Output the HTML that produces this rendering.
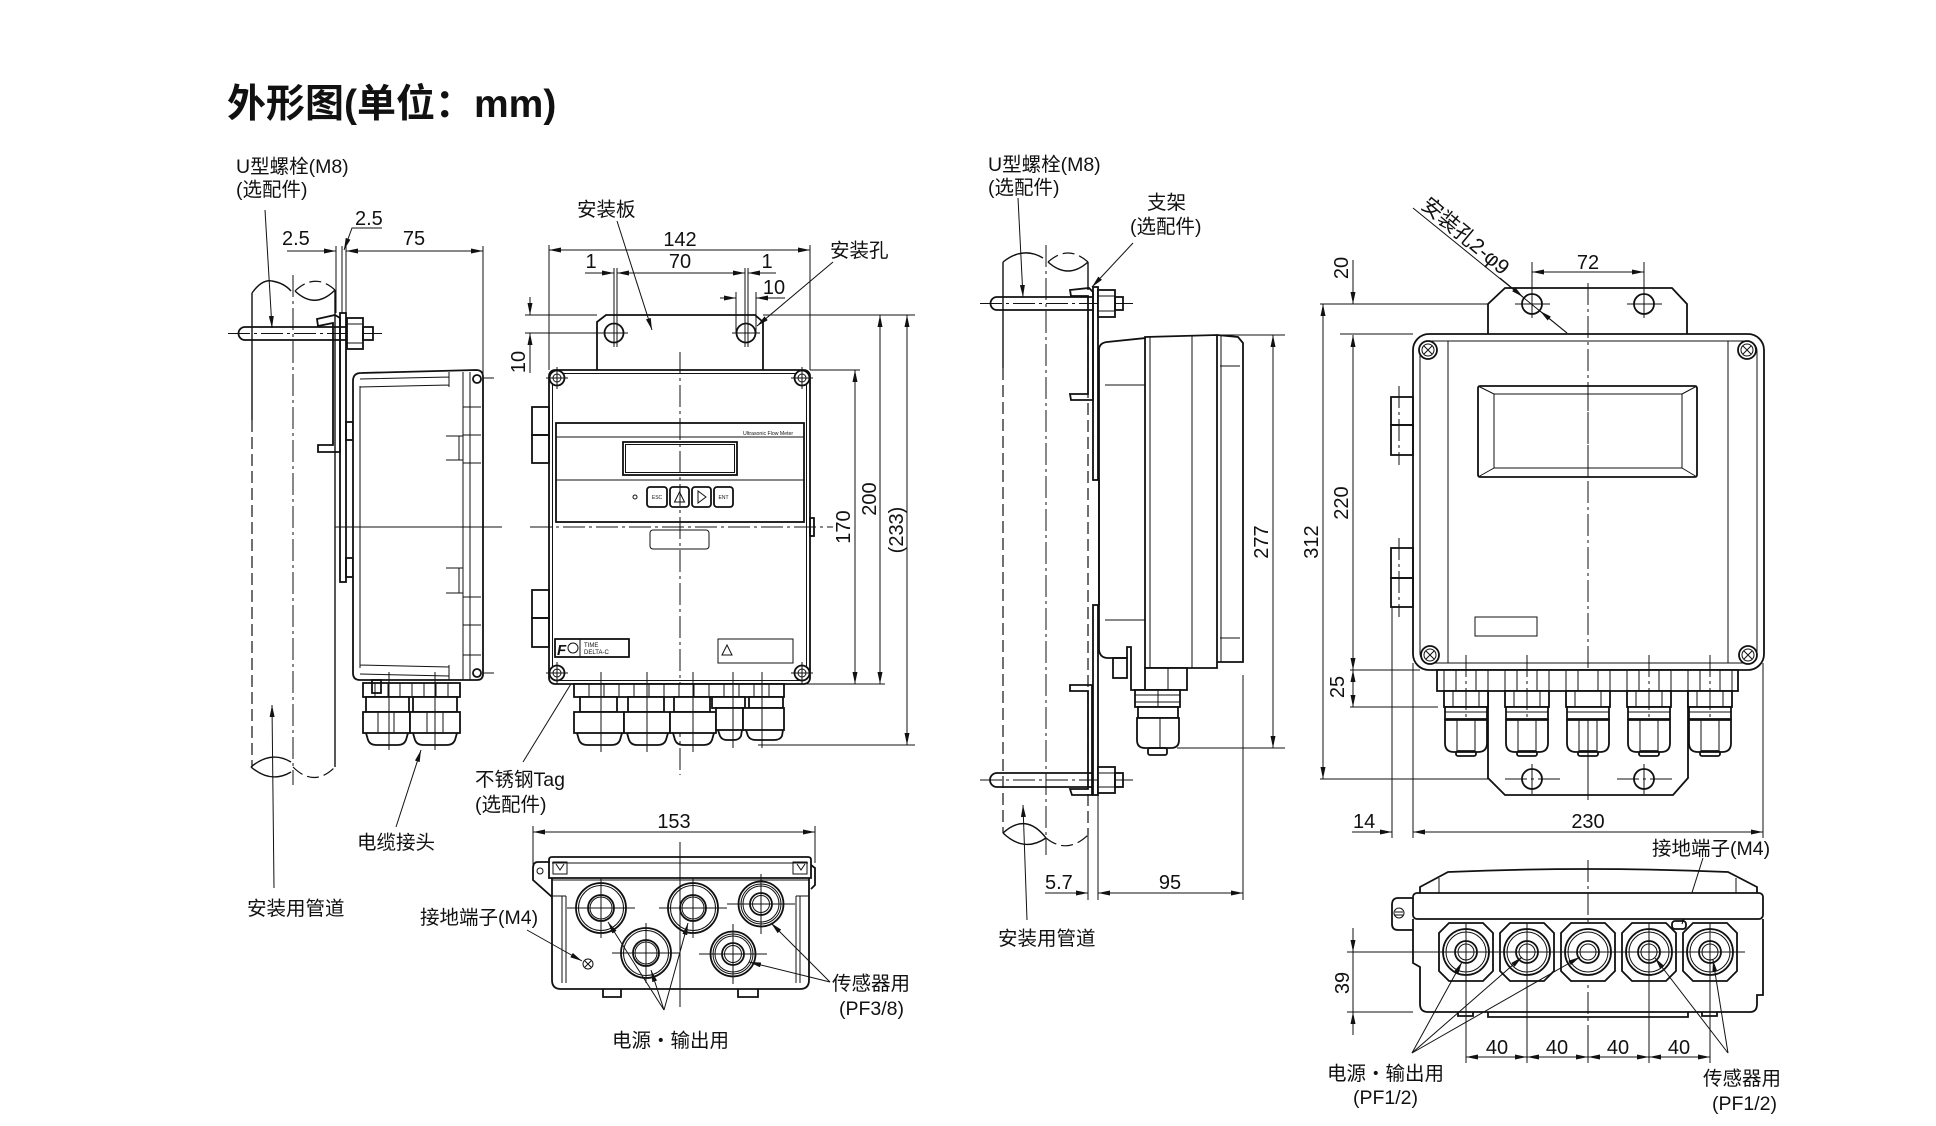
<!DOCTYPE html>
<html><head><meta charset="utf-8"><style>
html,body{margin:0;padding:0;background:#fff}
svg{display:block}
</style></head><body>
<svg xmlns="http://www.w3.org/2000/svg" width="1936" height="1126" viewBox="0 0 1936 1126">
<defs>
<marker id="A" viewBox="0 0 12 5" refX="12" refY="2.5" markerWidth="12" markerHeight="5" markerUnits="userSpaceOnUse" orient="auto-start-reverse"><path d="M0,0L12,2.5L0,5z" fill="#111"/></marker>
</defs>
<style>
.k{fill:none;stroke:#111;stroke-width:1.8}
.w{fill:#fff;stroke:#111;stroke-width:1.8}
.p{fill:none;stroke:#111;stroke-width:1.4}
.f{fill:none;stroke:#111;stroke-width:1}
.fw{fill:#fff;stroke:#111;stroke-width:1}
.c{fill:none;stroke:#111;stroke-width:1;stroke-dasharray:22 4 3 4}
.d{fill:none;stroke:#111;stroke-width:1.2;stroke-dasharray:12 5}
.m{fill:none;stroke:#111;stroke-width:1;marker-end:url(#A)}
.mm{fill:none;stroke:#111;stroke-width:1;marker-start:url(#A);marker-end:url(#A)}
text{font-family:"Liberation Sans","Noto Sans CJK SC",sans-serif;fill:#111}
.L{font-size:19.5px}
.D{font-size:20px}
.T{font-size:5px}
</style>
<rect width="1936" height="1126" fill="#fff"/>

<!-- Title -->
<text x="227" y="117" font-size="39" font-weight="bold">外形图(单位：mm)</text>

<!-- ================= VIEW A (side) ================= -->
<path class="p" d="M252,293V420"/><path class="d" d="M252,420V767"/>
<path class="c" d="M293,275V785"/>
<path class="p" d="M335,290V767"/>
<path class="p" d="M252,293 Q262,279 272,281 Q284,283 291,291"/>
<path class="d" d="M295,291 Q315,272 335,290"/><path class="p" d="M295,291 Q315,310 335,290"/>
<path class="p" d="M251,767 Q271,750 291,762"/><path class="p" d="M251,767 Q271,784 291,772"/>
<path class="d" d="M293,767 Q314,788 335,767"/>
<!-- U bolt -->
<path class="k" d="M347,327 L245,327 A6.5,6.5 0 0 0 245,340 L347,340"/>
<path class="c" d="M228,333.5H382"/>
<rect class="w" x="347" y="318" width="16" height="31"/>
<path class="f" d="M347,324H363 M347,343H363"/>
<rect class="k" x="363" y="327" width="10" height="13"/>
<!-- bracket -->
<path class="k" d="M317,319 L335,315 L340,318 L340,452 L318,452 L318,445 L333,445 L333,323 L318,326 Z"/>
<rect class="k" x="340" y="313" width="6" height="269"/>
<rect class="k" x="346" y="422" width="7" height="18"/>
<rect class="k" x="346" y="558" width="7" height="19"/>
<!-- housing side -->
<path class="w" d="M361,373 L476,370 Q483,370 483,377 L483,674 Q483,680 477,680 L360,680 Q353,680 353,673 L353,381 Q353,373 361,373 Z"/>
<path class="f" d="M360,386V668 M360,379L449,377 M360,387L449,385 M449,372V387 M463,372V680 M470,372V680 M360,665L449,667 M360,674L449,676 M449,665V680"/>
<path class="f" d="M463,407H481 M463,435H481 M463,463H481 M463,597H481 M463,625H481 M463,655H481"/>
<path class="f" d="M446,436H463 M446,460H463 M459,436V460 M446,568H463 M446,593H463 M459,568V593"/>
<circle class="k" cx="477" cy="379" r="4"/><circle class="k" cx="477" cy="673" r="4"/>
<path class="f" d="M335,527H502 M483,378H494 M483,673H494"/>
<!-- glands A -->
<rect class="w" x="363" y="683" width="97" height="14"/>
<path class="f" d="M375,683V697 M388,683V697 M400,683V697 M412,683V697 M424,683V697 M436,683V697 M448,683V697"/>
<rect class="w" x="366" y="697" width="43" height="15"/><rect class="w" x="413" y="697" width="44" height="15"/>
<rect class="w" x="363" y="712" width="47" height="21"/><rect class="w" x="410" y="712" width="50" height="21"/>
<path class="f" d="M378,712V733 M394,712V733 M427,712V733 M443,712V733"/>
<path class="k" d="M366,733 L368,740 Q370,745 376,745 L398,745 Q404,745 406,740 L408,733 M413,733 L415,740 Q417,745 423,745 L447,745 Q453,745 455,740 L457,733"/>
<rect class="k" x="372" y="680" width="9" height="13"/>
<path class="f" d="M389,672V750 M435,672V750"/>
<!-- dims A -->
<text class="D" x="282" y="245">2.5</text>
<path class="m" d="M287,251H336"/>
<path class="f" d="M336,246V313 M342,246V313 M346,246V313"/>
<text class="D" x="355" y="225">2.5</text>
<path class="m" d="M382,228H352L344,250"/>
<path class="mm" d="M346,251H483"/>
<text class="D" x="414" y="245" text-anchor="middle">75</text>
<path class="f" d="M483,246V382"/>
<!-- labels A -->
<text class="L" x="236" y="173">U型螺栓(M8)</text>
<text class="L" x="236" y="196">(选配件)</text>
<path class="m" d="M265,210L272,328"/>
<text class="L" x="247" y="915">安装用管道</text>
<path class="m" d="M274,888L272,705"/>
<text class="L" x="357" y="849">电缆接头</text>
<path class="m" d="M396,827L421,750"/>
<text class="L" x="475" y="786">不锈钢Tag</text>
<text class="L" x="475" y="811">(选配件)</text>
<path class="m" d="M523,762L655,547"/>

<!-- ================= VIEW B (front) ================= -->
<path class="k" d="M597,370V322L606,315H755L763,322V370"/>
<circle class="k" cx="614" cy="333" r="9.5"/><path class="f" d="M600,333H628"/>
<circle class="k" cx="746" cy="333" r="9.5"/><path class="f" d="M732,333H760"/>
<path class="f" d="M614,268V347 M617,268V347 M745,268V347 M748,268V347 M736,292V333 M756,292V333"/>
<path class="m" d="M720,298H736"/><path class="m" d="M785,298H756"/>
<text class="D" x="774" y="294" text-anchor="middle">10</text>
<path class="m" d="M585,273H614"/><path class="mm" d="M617,273H745"/><path class="m" d="M776,273H748"/>
<text class="D" x="591" y="268" text-anchor="middle">1</text>
<text class="D" x="680" y="268" text-anchor="middle">70</text>
<text class="D" x="767" y="268" text-anchor="middle">1</text>
<path class="mm" d="M549,250H810"/>
<text class="D" x="680" y="246" text-anchor="middle">142</text>
<path class="f" d="M549,245V370 M810,245V370"/>
<path class="m" d="M530,297V315"/><path class="m" d="M530,373V333"/>
<path class="f" d="M525,315H597 M525,333H604 M763,315H915"/>
<text class="D" transform="translate(525,362) rotate(-90)" text-anchor="middle">10</text>
<text class="L" x="577" y="216">安装板</text>
<path class="m" d="M617,221L652,330"/>
<text class="L" x="830" y="257">安装孔</text>
<path class="m" d="M833,262L757,326"/>
<!-- box -->
<rect class="w" x="549" y="370" width="261" height="314" rx="6"/>
<rect class="f" x="552.5" y="373.5" width="254" height="307" rx="4"/>
<g>
<circle class="w" cx="557" cy="378" r="7.5"/><circle class="f" cx="557" cy="378" r="4"/><path class="f" d="M546,378H568 M557,367V389"/>
<circle class="w" cx="802" cy="378" r="7.5"/><circle class="f" cx="802" cy="378" r="4"/><path class="f" d="M791,378H813 M802,367V389"/>
<circle class="w" cx="557" cy="673" r="7.5"/><circle class="f" cx="557" cy="673" r="4"/><path class="f" d="M546,673H568 M557,662V684"/>
<circle class="w" cx="802" cy="673" r="7.5"/><circle class="f" cx="802" cy="673" r="4"/><path class="f" d="M791,673H813 M802,662V684"/>
</g>
<rect class="k" x="532" y="407" width="17" height="28"/><rect class="k" x="532" y="435" width="17" height="28"/>
<rect class="k" x="532" y="590" width="17" height="28"/><rect class="k" x="532" y="618" width="17" height="29"/>
<rect class="k" x="810" y="518" width="4" height="18"/>
<rect class="k" x="556" y="423" width="248" height="99"/>
<path class="f" d="M556,437H804 M556,480H804"/>
<rect class="k" x="623" y="442" width="114" height="33"/><rect class="f" x="625.5" y="444.5" width="109" height="28"/>
<text x="743" y="435" font-size="5.2">Ultrasonic Flow Meter</text>
<circle class="f" cx="635" cy="497" r="2"/>
<rect class="k" x="647" y="487" width="20" height="20" rx="3"/><text class="T" x="657" y="499" text-anchor="middle">ESC</text>
<rect class="k" x="670" y="487" width="19" height="20" rx="3"/><path class="f" d="M674.5,502L679.5,492L684.5,502Z"/>
<rect class="k" x="692" y="487" width="19" height="20" rx="3"/><path class="f" d="M698,491L706,497L698,503Z"/>
<rect class="k" x="714" y="487" width="19" height="20" rx="3"/><text class="T" x="723.5" y="499" text-anchor="middle">ENT</text>
<path class="c" d="M680,352V775"/>
<path class="c" d="M530,527H833"/>
<rect class="f" x="650" y="530" width="59" height="19" rx="3"/>
<rect class="k" x="555" y="639" width="74" height="18"/>
<path class="f" d="M580,639V657"/>
<text x="557" y="655" font-size="15" font-weight="bold" font-style="italic">F</text>
<circle class="f" cx="573" cy="648" r="5"/>
<text x="584" y="647" font-size="6">TIME</text>
<text x="584" y="654" font-size="6">DELTA-C</text>
<rect class="f" x="718" y="639" width="75" height="24"/>
<path class="f" d="M722,655L727,645L732,655Z"/>
<!-- glands B -->
<rect class="w" x="574" y="684" width="210" height="13"/>
<path class="f" d="M589,684V697 M604,684V697 M619,684V697 M634,684V697 M649,684V697 M664,684V697 M679,684V697 M694,684V697 M709,684V697 M724,684V697 M739,684V697 M754,684V697 M769,684V697"/>
<rect class="w" x="580" y="697" width="37" height="15"/><rect class="w" x="628" y="697" width="36" height="15"/><rect class="w" x="674" y="697" width="36" height="15"/>
<rect class="w" x="712" y="697" width="33" height="11"/><rect class="w" x="749" y="697" width="34" height="11"/>
<rect class="w" x="574" y="712" width="50" height="21"/><rect class="w" x="624" y="712" width="46" height="21"/><rect class="w" x="670" y="712" width="46" height="21"/>
<rect class="w" x="716" y="708" width="27" height="22"/><rect class="w" x="743" y="708" width="41" height="22"/>
<path class="k" d="M577,733L579,740Q581,745 587,745H612Q618,745 620,740L622,733 M627,733L629,740Q631,745 637,745H658Q664,745 666,740L668,733 M673,733L675,740Q677,745 683,745H704Q710,745 712,740L714,733 M718,730L720,736Q722,740 727,740H734Q739,740 741,736L742,730 M746,730L748,736Q750,740 756,740H774Q780,740 782,736L783,730"/>
<path class="f" d="M601,672V752 M647,672V752 M693,672V752 M733,672V748 M762,672V748"/>
<!-- right dims B -->
<path class="f" d="M810,370H860 M790,684H885 M758,745H915"/>
<path class="mm" d="M855,370V684"/>
<text class="D" transform="translate(850,527) rotate(-90)" text-anchor="middle">170</text>
<path class="mm" d="M880,315V684"/>
<text class="D" transform="translate(876,499) rotate(-90)" text-anchor="middle">200</text>
<path class="mm" d="M907,315V745"/>
<text class="D" transform="translate(903,530) rotate(-90)" text-anchor="middle">(233)</text>

<!-- ================= VIEW C (bottom) ================= -->
<path class="mm" d="M533,832H815"/>
<text class="D" x="674" y="828" text-anchor="middle">153</text>
<path class="f" d="M533,826V873 M815,826V863"/>
<path class="w" d="M549,878V860Q549,857 552,857H808Q811,857 811,860V878Z"/>
<path class="f" d="M552,863H808"/>
<path class="k" d="M552,878V980Q552,989 561,989H800Q809,989 809,980V878"/>
<path class="k" d="M550,862H538Q533,862 533,868V880L552,897"/>
<circle class="f" cx="540" cy="871" r="3"/>
<path class="k" d="M811,865L815,868V885L811,889"/>
<rect class="f" x="553" y="862" width="14" height="12"/><rect class="f" x="793" y="862" width="14" height="12"/>
<path class="f" d="M556,864L560,870L564,864 M797,864L801,870L805,864"/>
<path class="f" d="M562,896V983 M566,896V983 M552,896H566 M796,896V983 M800,896V983 M796,896H809 M552,880H809"/>
<path class="f" d="M680,842V1007"/>
<!-- holes -->
<g>
<circle class="k" cx="601" cy="908" r="25"/><circle class="f" cx="601" cy="908" r="22.5"/><circle class="k" cx="601" cy="908" r="13"/><circle class="f" cx="601" cy="908" r="11"/><path class="f" d="M567,908H635 M601,878V938"/>
<circle class="k" cx="693" cy="908" r="25"/><circle class="f" cx="693" cy="908" r="22.5"/><circle class="k" cx="693" cy="908" r="13"/><circle class="f" cx="693" cy="908" r="11"/><path class="f" d="M659,908H727 M693,878V938"/>
<circle class="k" cx="646" cy="953" r="25"/><circle class="f" cx="646" cy="953" r="22.5"/><circle class="k" cx="646" cy="953" r="13"/><circle class="f" cx="646" cy="953" r="11"/><path class="f" d="M612,953H680 M646,923V983"/>
<circle class="k" cx="761" cy="904" r="22.5"/><circle class="f" cx="761" cy="904" r="20"/><circle class="f" cx="761" cy="904" r="18"/><circle class="k" cx="761" cy="904" r="11"/><circle class="f" cx="761" cy="904" r="8.5"/><path class="f" d="M727,904H795 M761,874V934"/>
<circle class="k" cx="733" cy="954" r="22.5"/><circle class="f" cx="733" cy="954" r="20"/><circle class="f" cx="733" cy="954" r="18"/><circle class="k" cx="733" cy="954" r="11"/><circle class="f" cx="733" cy="954" r="8.5"/><path class="f" d="M699,954H767 M733,924V984"/>
</g>
<circle class="f" cx="588" cy="964" r="5"/><path class="f" d="M585,961L591,967 M591,961L585,967"/>
<path class="k" d="M603,989V997H621V989 M738,989V997H758V989"/>
<text class="L" x="420" y="924">接地端子(M4)</text>
<path class="m" d="M527,930L582,961"/>
<text class="L" x="612" y="1047">电源・输出用</text>
<path class="m" d="M664,1010L608,922"/><path class="m" d="M664,1010L651,970"/><path class="m" d="M664,1010L688,923"/>
<text class="L" x="832" y="990">传感器用</text>
<text class="L" x="839" y="1015">(PF3/8)</text>
<path class="m" d="M830,982L771,923"/><path class="m" d="M830,982L749,962"/>

<!-- ================= VIEW D (side, right) ================= -->
<text class="L" x="988" y="171">U型螺栓(M8)</text>
<text class="L" x="988" y="194">(选配件)</text>
<path class="m" d="M1018,198L1023,297"/>
<text class="L" x="1147" y="209">支架</text>
<text class="L" x="1130" y="233">(选配件)</text>
<path class="m" d="M1133,243L1092,287"/>
<text class="L" x="998" y="945">安装用管道</text>
<path class="m" d="M1027,920L1023,805"/>
<!-- pipe -->
<path class="p" d="M1003,262V368"/><path class="d" d="M1003,368V833"/>
<path class="c" d="M1046,245V855"/>
<path class="p" d="M1088,262V290"/><path class="d" d="M1088,318V835"/>
<path class="p" d="M1003,262Q1023,246 1043,258"/>
<path class="d" d="M1048,262Q1068,244 1088,262"/><path class="p" d="M1048,262Q1068,280 1088,262"/>
<path class="p" d="M1003,833Q1026,812 1046,838"/><path class="p" d="M1003,833Q1024,853 1046,838"/>
<path class="d" d="M1046,838Q1067,855 1088,835"/>
<!-- top U bolt -->
<path class="k" d="M1093,297H997A6.5,6.5 0 0 0 997,310H1093"/>
<path class="c" d="M980,303.5H1133"/>
<path class="k" d="M1070,290L1089,288L1093,292V400H1071L1070,394H1088V296L1071,296Z"/>
<rect class="k" x="1093" y="287" width="5" height="193"/>
<rect class="w" x="1098" y="290" width="17" height="27"/><path class="f" d="M1098,296H1115 M1098,311H1115"/>
<rect class="k" x="1115" y="297" width="8" height="13"/>
<!-- bottom U bolt -->
<path class="k" d="M1093,773H997A7,7 0 0 0 997,787H1093"/>
<path class="c" d="M980,780H1133"/>
<path class="k" d="M1070,685H1092V795H1072L1070,789H1088V691H1070Z"/>
<rect class="k" x="1093" y="605" width="5" height="190"/>
<rect class="w" x="1098" y="767" width="17" height="26"/><path class="f" d="M1098,773H1115 M1098,787H1115"/>
<rect class="k" x="1115" y="773" width="8" height="14"/>
<!-- housing D -->
<path class="k" d="M1099,605V350Q1099,343 1107,342L1146,338"/>
<path class="k" d="M1099,480V650Q1100,658 1108,658H1127V647H1131V690H1145"/>
<rect class="k" x="1113" y="658" width="14" height="20"/>
<path class="f" d="M1105,385H1145 M1105,620H1145"/>
<path class="k" d="M1145,337L1217,335V668H1145Z"/>
<path class="f" d="M1150,337V668 M1192,336V668 M1221,336V662"/>
<path class="k" d="M1217,335L1238,337L1243,343V662H1217"/>
<path class="f" d="M1220,366H1240 M1220,638H1240"/>
<!-- gland D -->
<rect class="w" x="1145" y="668" width="42" height="22"/><path class="f" d="M1168,668V690"/>
<rect class="w" x="1135" y="690" width="45" height="17"/><path class="f" d="M1135,695H1180 M1135,702H1180 M1158,690V707"/>
<rect class="w" x="1138" y="707" width="40" height="11"/>
<path class="w" d="M1137,718H1179V740Q1179,748 1171,748H1145Q1137,748 1137,740Z"/>
<path class="f" d="M1160,718V748"/>
<rect class="k" x="1148" y="748" width="19" height="7" rx="2"/>
<!-- dims D -->
<text class="D" x="1045" y="889">5.7</text>
<path class="m" d="M1045,893H1088"/>
<path class="mm" d="M1098,893H1243"/>
<text class="D" x="1170" y="889" text-anchor="middle">95</text>
<path class="f" d="M1088,835V900 M1098,795V900 M1243,675V900"/>
<path class="f" d="M1217,335H1285 M1177,748H1285"/>
<path class="mm" d="M1273,335V748"/>
<text class="D" transform="translate(1268,542) rotate(-90)" text-anchor="middle">277</text>
<path class="f" d="M1320,304H1488 M1320,779H1488"/>
<path class="mm" d="M1323,304V779"/>
<text class="D" transform="translate(1318,542) rotate(-90)" text-anchor="middle">312</text>
<path class="m" d="M1353,260V304"/>
<text class="D" transform="translate(1348,268) rotate(-90)" text-anchor="middle">20</text>
<path class="mm" d="M1353,335V670"/>
<text class="D" transform="translate(1348,503) rotate(-90)" text-anchor="middle">220</text>
<path class="mm" d="M1353,670V707"/>
<text class="D" transform="translate(1344,687) rotate(-90)" text-anchor="middle">25</text>
<path class="f" d="M1340,334H1413 M1350,670H1420 M1350,707H1438"/>

<!-- ================= VIEW E (front, right) ================= -->
<path class="f" d="M1413,208L1567,333"/>
<path class="m" d="M1500,278L1523,297"/>
<path class="m" d="M1567,333L1540,311"/>
<text font-size="21" transform="translate(1420,207) rotate(40)">安装孔2-φ9</text>
<path class="mm" d="M1532,272H1644"/>
<text class="D" x="1588" y="269" text-anchor="middle">72</text>
<path class="f" d="M1532,262V296 M1644,262V296"/>
<path class="k" d="M1488,334V304L1505,288H1672L1687,304V334"/>
<circle class="k" cx="1532" cy="304" r="10"/><circle class="k" cx="1644" cy="304" r="10"/>
<path class="f" d="M1532,290V318 M1644,290V318 M1515,304H1550 M1627,304H1662"/>
<rect class="w" x="1413" y="334" width="351" height="336" rx="16"/>
<rect class="f" x="1420" y="341" width="337" height="322" rx="10"/>
<path class="f" d="M1448,341V663 M1728,341V663"/>
<path class="c" d="M1588,283V800"/>
<g>
<circle class="w" cx="1428" cy="350" r="9"/><circle class="f" cx="1428" cy="350" r="6"/><path class="f" d="M1424,346L1432,354 M1432,346L1424,354"/>
<circle class="w" cx="1747" cy="350" r="9"/><circle class="f" cx="1747" cy="350" r="6"/><path class="f" d="M1743,346L1751,354 M1751,346L1743,354"/>
<circle class="w" cx="1430" cy="655" r="9"/><circle class="f" cx="1430" cy="655" r="6"/><path class="f" d="M1426,651L1434,659 M1434,651L1426,659"/>
<circle class="w" cx="1748" cy="655" r="9"/><circle class="f" cx="1748" cy="655" r="6"/><path class="f" d="M1744,651L1752,659 M1752,651L1744,659"/>
</g>
<rect class="k" x="1478" y="386" width="219" height="91" rx="2"/>
<rect class="f" x="1494" y="394" width="188" height="74"/>
<path class="f" d="M1478,386L1494,394 M1697,386L1682,394 M1478,477L1494,468 M1697,477L1682,468"/>
<path class="c" d="M1588,386V477"/>
<rect class="k" x="1391" y="397" width="22" height="28"/><rect class="k" x="1391" y="425" width="22" height="30"/>
<rect class="k" x="1391" y="548" width="22" height="30"/><rect class="k" x="1391" y="578" width="22" height="29"/>
<path class="c" d="M1399,386V465 M1399,538V617"/>
<rect class="f" x="1475" y="617" width="62" height="19"/>
<!-- bottom plate E -->
<path class="k" d="M1488,692V778L1505,795H1673L1688,778V692"/>
<circle class="k" cx="1532" cy="779" r="10"/><circle class="k" cx="1644" cy="779" r="10"/>
<path class="f" d="M1532,764V794 M1644,764V794"/>
<path class="c" d="M1505,779H1560 M1617,779H1675"/>
<!-- glands E -->
<rect class="w" x="1437" y="670" width="301" height="21"/>
<g>
<path class="f" d="M1444,670V691 M1456,670V691 M1476,670V691 M1488,670V691 M1505,670V691 M1517,670V691 M1537,670V691 M1549,670V691 M1566,670V691 M1578,670V691 M1598,670V691 M1610,670V691 M1627,670V691 M1639,670V691 M1659,670V691 M1671,670V691 M1688,670V691 M1700,670V691 M1720,670V691 M1732,670V691"/>
</g>
<g>
<rect class="w" x="1444" y="691" width="44" height="16"/><rect class="w" x="1445" y="707" width="42" height="12"/><path class="f" d="M1445,712H1487 M1453,691V707 M1479,691V707"/>
<path class="w" d="M1445,720H1487V743Q1487,752 1478,752H1454Q1445,752 1445,743Z"/><path class="f" d="M1457,720V752 M1475,720V752"/><rect class="k" x="1456" y="751" width="20" height="5" rx="2"/>
<rect class="w" x="1505" y="691" width="44" height="16"/><rect class="w" x="1506" y="707" width="42" height="12"/><path class="f" d="M1506,712H1548 M1514,691V707 M1540,691V707"/>
<path class="w" d="M1506,720H1548V743Q1548,752 1539,752H1515Q1506,752 1506,743Z"/><path class="f" d="M1518,720V752 M1536,720V752"/><rect class="k" x="1517" y="751" width="20" height="5" rx="2"/>
<rect class="w" x="1566" y="691" width="44" height="16"/><rect class="w" x="1567" y="707" width="42" height="12"/><path class="f" d="M1567,712H1609 M1575,691V707 M1601,691V707"/>
<path class="w" d="M1567,720H1609V743Q1609,752 1600,752H1576Q1567,752 1567,743Z"/><path class="f" d="M1579,720V752 M1597,720V752"/><rect class="k" x="1578" y="751" width="20" height="5" rx="2"/>
<rect class="w" x="1627" y="691" width="44" height="16"/><rect class="w" x="1628" y="707" width="42" height="12"/><path class="f" d="M1628,712H1670 M1636,691V707 M1662,691V707"/>
<path class="w" d="M1628,720H1670V743Q1670,752 1661,752H1637Q1628,752 1628,743Z"/><path class="f" d="M1640,720V752 M1658,720V752"/><rect class="k" x="1639" y="751" width="20" height="5" rx="2"/>
<rect class="w" x="1688" y="691" width="44" height="16"/><rect class="w" x="1689" y="707" width="42" height="12"/><path class="f" d="M1689,712H1731 M1697,691V707 M1723,691V707"/>
<path class="w" d="M1689,720H1731V743Q1731,752 1722,752H1698Q1689,752 1689,743Z"/><path class="f" d="M1701,720V752 M1719,720V752"/><rect class="k" x="1700" y="751" width="20" height="5" rx="2"/>
</g>
<path class="c" d="M1466,655V720 M1527,655V720 M1649,655V720 M1710,655V720"/>
<path class="f" d="M1588,720V795"/>
<!-- dims E -->
<path class="f" d="M1392,607V838 M1413,663V838 M1763,663V838"/>
<path class="m" d="M1352,832H1392"/>
<text class="D" x="1353" y="828">14</text>
<path class="mm" d="M1413,832H1763"/>
<text class="D" x="1588" y="828" text-anchor="middle">230</text>

<!-- ================= VIEW F (bottom, right) ================= -->
<text class="L" x="1652" y="855">接地端子(M4)</text>
<path class="m" d="M1703,858L1682,924"/>
<path class="k" d="M1420,893V887L1448,872Q1588,866 1728,872L1757,887V893"/>
<path class="f" d="M1439,878V893 M1736,878V893"/>
<rect class="w" x="1413" y="893" width="350" height="26" rx="4"/>
<path class="k" d="M1413,919V963L1420,967V1004Q1420,1012 1428,1012H1750Q1757,1012 1757,1004V995H1763V919"/>
<path class="k" d="M1413,898H1398Q1392,898 1392,905V924Q1392,930 1398,930H1413"/>
<circle class="f" cx="1399" cy="913" r="5"/><path class="f" d="M1395,912H1403 M1395,915H1403"/>
<rect class="k" x="1672" y="921" width="14" height="8" rx="3"/>
<path class="c" d="M1588,860V1045"/>
<path class="f" d="M1347,952H1745"/>
<g>
<path class="w" d="M1449,923H1483L1493,933V971L1483,981H1449L1439,971V933Z"/>
<circle class="k" cx="1466" cy="952" r="23"/><circle class="f" cx="1466" cy="952" r="20"/><circle class="k" cx="1466" cy="952" r="11"/><circle class="f" cx="1466" cy="952" r="8"/>
<path class="w" d="M1510,923H1544L1554,933V971L1544,981H1510L1500,971V933Z"/>
<circle class="k" cx="1527" cy="952" r="23"/><circle class="f" cx="1527" cy="952" r="20"/><circle class="k" cx="1527" cy="952" r="11"/><circle class="f" cx="1527" cy="952" r="8"/>
<path class="w" d="M1571,923H1605L1615,933V971L1605,981H1571L1561,971V933Z"/>
<circle class="k" cx="1588" cy="952" r="23"/><circle class="f" cx="1588" cy="952" r="20"/><circle class="k" cx="1588" cy="952" r="11"/><circle class="f" cx="1588" cy="952" r="8"/>
<path class="w" d="M1632,923H1666L1676,933V971L1666,981H1632L1622,971V933Z"/>
<circle class="k" cx="1649" cy="952" r="23"/><circle class="f" cx="1649" cy="952" r="20"/><circle class="k" cx="1649" cy="952" r="11"/><circle class="f" cx="1649" cy="952" r="8"/>
<path class="w" d="M1693,923H1727L1737,933V971L1727,981H1693L1683,971V933Z"/>
<circle class="k" cx="1710" cy="952" r="23"/><circle class="f" cx="1710" cy="952" r="20"/><circle class="k" cx="1710" cy="952" r="11"/><circle class="f" cx="1710" cy="952" r="8"/>
</g>
<path class="f" d="M1466,923V1063 M1527,923V1063 M1649,923V1063 M1710,923V1063 M1588,1040V1063"/>
<path class="f" d="M1440,952H1745"/>
<path class="k" d="M1458,1012V1016H1473V1012 M1488,1012V1017H1688V1012 M1702,1012V1016H1717V1012"/>
<!-- dims F -->
<path class="f" d="M1347,1012H1413"/>
<path class="m" d="M1353,928V952"/><path class="m" d="M1353,1035V1012"/>
<path class="f" d="M1353,952V1012"/>
<text class="D" transform="translate(1349,983) rotate(-90)" text-anchor="middle">39</text>
<path class="mm" d="M1466,1057H1527"/><path class="mm" d="M1527,1057H1588"/><path class="mm" d="M1588,1057H1649"/><path class="mm" d="M1649,1057H1710"/>
<text class="D" x="1497" y="1054" text-anchor="middle">40</text>
<text class="D" x="1557" y="1054" text-anchor="middle">40</text>
<text class="D" x="1618" y="1054" text-anchor="middle">40</text>
<text class="D" x="1679" y="1054" text-anchor="middle">40</text>
<text class="L" x="1327" y="1080">电源・输出用</text>
<text class="L" x="1353" y="1104">(PF1/2)</text>
<path class="m" d="M1412,1053L1462,962"/><path class="m" d="M1412,1053L1522,957"/><path class="m" d="M1412,1053L1580,957"/>
<text class="L" x="1703" y="1085">传感器用</text>
<text class="L" x="1712" y="1110">(PF1/2)</text>
<path class="m" d="M1728,1053L1655,958"/><path class="m" d="M1728,1053L1713,960"/>
</svg>
</body></html>
